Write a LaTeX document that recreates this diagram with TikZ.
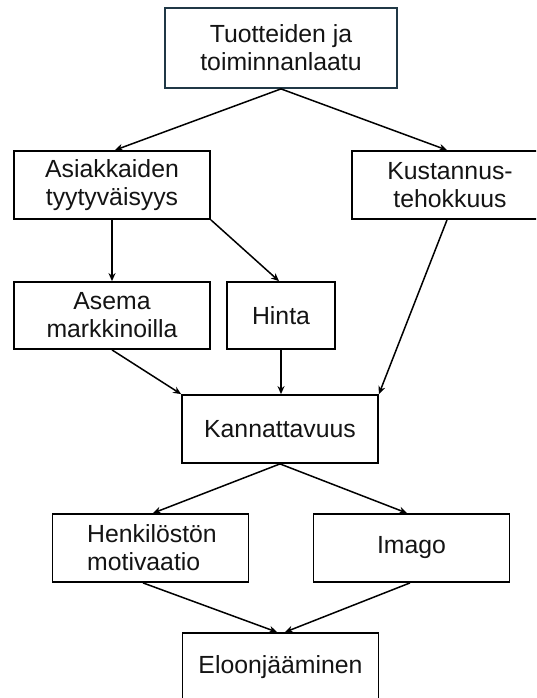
\documentclass[tikz,border=0pt]{standalone}
\usepackage{fontspec}
\setmainfont{Liberation Sans}
\usetikzlibrary{arrows.meta}
\definecolor{slateedge}{RGB}{32,56,70}
\definecolor{inkgray}{RGB}{20,20,20}
\tikzset{
  box/.style={draw=black, line width=1.8pt, rectangle, inner sep=0pt,
    minimum width=196pt, minimum height=68pt, align=center,
    text=inkgray, font=\fontsize{24.8}{28}\selectfont},
  link/.style={line width=1.5pt, -{Stealth[length=8pt,width=7pt]}}
}
\begin{document}
\begin{tikzpicture}[x=1pt, y=-1pt]
  \clip (0,0) rectangle (536,698);
  \fill[white] (0,0) rectangle (536,698);

  % boxes
  \node[box, draw=slateedge, minimum width=232pt, minimum height=80pt] (laatu) at (281,48)
    {Tuotteiden ja\\toiminnanlaatu};
  \node[box] (asiakas) at (112,185) {Asiakkaiden\\tyytyväisyys};
  \node[box] (kustannus) at (450,185) {Kustannus-\\tehokkuus};
  \node[box, minimum height=67pt] (asema) at (112,315.5) {Asema\\markkinoilla};
  \node[box, minimum width=108pt, minimum height=67pt] (hinta) at (281,315.5) {Hinta};
  \node[box] (kanna) at (280,429) {Kannattavuus};
  \node[box, align=left] (henki) at (150.5,548) {\hspace*{3pt}Henkilöstön\\\hspace*{3pt}motivaatio};
  \node[box] (imago) at (411.5,548) {Imago};
  \node[box] (eloon) at (280.5,667) {Eloonjääminen};

  % connectors
  \draw[link] (laatu.south) -- ([xshift=3pt]asiakas.north);
  \draw[link] (laatu.south) -- ([xshift=-3pt]kustannus.north);
  \draw[link] (asiakas.south) -- (asema.north);
  \draw[link] (asiakas.south east) -- ([xshift=-2pt]hinta.north);
  \draw[link] ([xshift=-3pt]kustannus.south) -- (kanna.north east);
  \draw[link] (asema.south) -- (kanna.north west);
  \draw[link] (hinta.south) -- ([xshift=1pt]kanna.north);
  \draw[link] (kanna.south) -- ([xshift=2.5pt]henki.north);
  \draw[link] (kanna.south) -- ([xshift=-4.5pt]imago.north);
  \draw[link] ([xshift=-7.5pt]henki.south) -- ([xshift=-3.5pt]eloon.north);
  \draw[link] ([xshift=-1.5pt]imago.south) -- ([xshift=4.5pt]eloon.north);
\end{tikzpicture}
\end{document}
